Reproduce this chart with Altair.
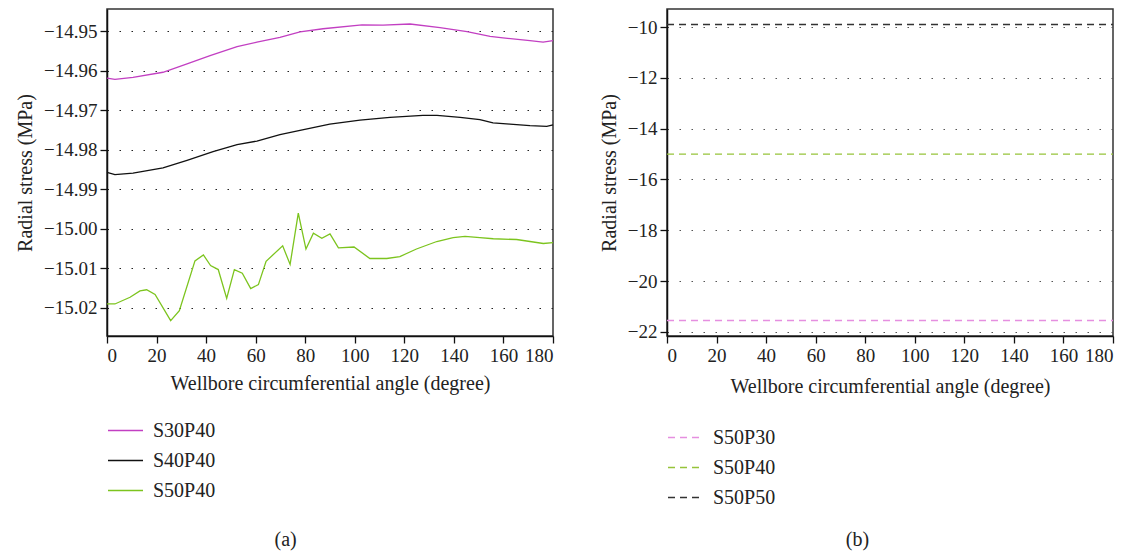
import altair as alt
import pandas as pd

FONT = "'Liberation Serif', 'Times New Roman', 'DejaVu Serif', serif"

# ---------------- panel (a) data ----------------
s30_angle = [0, 3.2, 10.5, 22.6, 32.3, 41.6, 52.5, 60.5, 69.8, 77.9, 87.2, 102.9, 111.4,
             122.3, 134.4, 145.3, 154.6, 159.8, 170.7, 176.0, 180]
s30_value = [-14.9619, -14.9622, -14.9617, -14.9604, -14.9583, -14.9562, -14.9539, -14.9528,
             -14.9516, -14.9502, -14.9494, -14.9484, -14.9485, -14.9482, -14.9491, -14.9501,
             -14.9513, -14.9517, -14.9524, -14.9528, -14.9524]

s40_angle = [0, 3.2, 10.5, 22.6, 32.3, 42.8, 52.5, 60.5, 69.8, 77.9, 89.9, 102.1, 114.2,
             127.5, 133.2, 142.5, 150.5, 155.8, 162.6, 170.7, 177.5, 180]
s40_value = [-14.9857, -14.9863, -14.9859, -14.9846, -14.9827, -14.9805, -14.9787, -14.9778,
             -14.9762, -14.9751, -14.9735, -14.9725, -14.9718, -14.9713, -14.9713, -14.9718,
             -14.9724, -14.9732, -14.9735, -14.9739, -14.9741, -14.9737]

s50_angle = [0, 3.2, 9.3, 13.3, 16.0, 19.4, 25.7, 29.2, 35.5, 38.9, 41.8, 44.9, 48.3, 51.4,
             54.6, 58.0, 61.1, 64.2, 70.9, 73.9, 77.2, 80.3, 83.3, 86.7, 90.0, 93.4, 99.7,
             106.1, 112.9, 118.2, 124.9, 133.1, 139.7, 144.5, 150.5, 155.9, 165.3, 170.7,
             176.1, 180]
s50_value = [-15.0190, -15.0190, -15.0173, -15.0157, -15.0154, -15.0166, -15.0232, -15.0207,
             -15.0081, -15.0066, -15.0093, -15.0103, -15.0176, -15.0103, -15.0112, -15.0151,
             -15.0141, -15.0082, -15.0043, -15.0090, -14.9960, -15.0051, -15.0011, -15.0024,
             -15.0013, -15.0048, -15.0046, -15.0075, -15.0075, -15.0070, -15.0051, -15.0032,
             -15.0022, -15.0019, -15.0022, -15.0025, -15.0027, -15.0032, -15.0037, -15.0035]

left_series = ["S30P40", "S40P40", "S50P40"]
left_colors = ["#c23fc2", "#111111", "#7cc41e"]

# ---------------- panel (b) data ----------------
right_angle = [0, 180]
p30_value = [-21.55, -21.55]
p40_value = [-15.0, -15.0]
p50_value = [-9.9, -9.9]

right_series = ["S50P30", "S50P40", "S50P50"]
right_colors = ["#e58fe0", "#96c43a", "#333333"]

left_ticks = [-14.95, -14.96, -14.97, -14.98, -14.99, -15.00, -15.01, -15.02]
right_ticks = [-10, -12, -14, -16, -18, -20, -22]
x_ticks = list(range(0, 181, 20))


def frame(angles, values, name):
    return pd.DataFrame({"angle": angles, "stress": values, "series": name})


left_df = pd.concat([
    frame(s30_angle, s30_value, "S30P40"),
    frame(s40_angle, s40_value, "S40P40"),
    frame(s50_angle, s50_value, "S50P40"),
])
right_df = pd.concat([
    frame(right_angle, p30_value, "S50P30"),
    frame(right_angle, p40_value, "S50P40"),
    frame(right_angle, p50_value, "S50P50"),
])

XTITLE = "Wellbore circumferential angle (degree)"
YTITLE = "Radial stress (MPa)"


def x_axis(tp):
    return alt.Axis(values=x_ticks, title=XTITLE, grid=False, format="d", titlePadding=tp)


def legend(y, dash=None):
    kw = dict(title=None, orient="none", legendX=0, legendY=y, symbolType="stroke",
              symbolSize=1225, symbolStrokeWidth=1.3, labelFont=FONT, labelFontSize=20,
              labelColor="#222222", labelOffset=9, rowPadding=1, padding=0)
    if dash:
        kw["symbolDash"] = dash
    return alt.Legend(**kw)


def caption(text, off):
    return alt.TitleParams(text, orient="bottom", offset=off, font=FONT, fontSize=20,
                           fontWeight="normal", color="#222222", frame="bounds",
                           anchor="middle")


left = alt.Chart(left_df).mark_line(strokeWidth=1.3).encode(
    x=alt.X("angle:Q", scale=alt.Scale(domain=[0, 180], nice=False), axis=x_axis(8)),
    y=alt.Y("stress:Q", scale=alt.Scale(domain=[-15.0271, -14.9444], nice=False, zero=False),
            axis=alt.Axis(values=left_ticks, format=".2f", title=YTITLE, grid=True,
                          gridDash=[1.5, 10.5], gridColor="#222222", gridWidth=1.2)),
    color=alt.Color("series:N", scale=alt.Scale(domain=left_series, range=left_colors),
                    legend=legend(403)),
).properties(width=446, height=327, title=caption("(a)", 29))

right = alt.Chart(right_df).mark_line(strokeWidth=1.3, strokeDash=[7, 5]).encode(
    x=alt.X("angle:Q", scale=alt.Scale(domain=[0, 180], nice=False), axis=x_axis(11)),
    y=alt.Y("stress:Q", scale=alt.Scale(domain=[-22.16, -9.29], nice=False, zero=False),
            axis=alt.Axis(values=right_ticks, format="d", title=YTITLE, grid=True,
                          gridDash=[1.5, 10.5], gridColor="#555555", gridWidth=1.2)),
    color=alt.Color("series:N", scale=alt.Scale(domain=right_series, range=right_colors),
                    legend=legend(410, [7, 5])),
).properties(width=446, height=327, title=caption("(b)", 22))

chart = alt.hconcat(left, right, spacing=41).resolve_scale(
    color="independent"
).resolve_legend(
    color="independent"
).properties(
    padding={"left": 6, "top": 0, "right": 0, "bottom": 0}
).configure_view(
    stroke="#333333", strokeWidth=1.5
).configure_axis(
    labelFont=FONT, labelFontSize=19, labelColor="#222222",
    titleFont=FONT, titleFontSize=20, titleFontWeight="normal", titleColor="#222222",
    domainColor="#111111", domainWidth=1.5, tickColor="#111111", tickWidth=1.3,
    tickSize=7, labelPadding=3
).configure_axisY(
    titlePadding=8
)

chart.save("out.html", embed_options={"renderer": "svg", "actions": False})
